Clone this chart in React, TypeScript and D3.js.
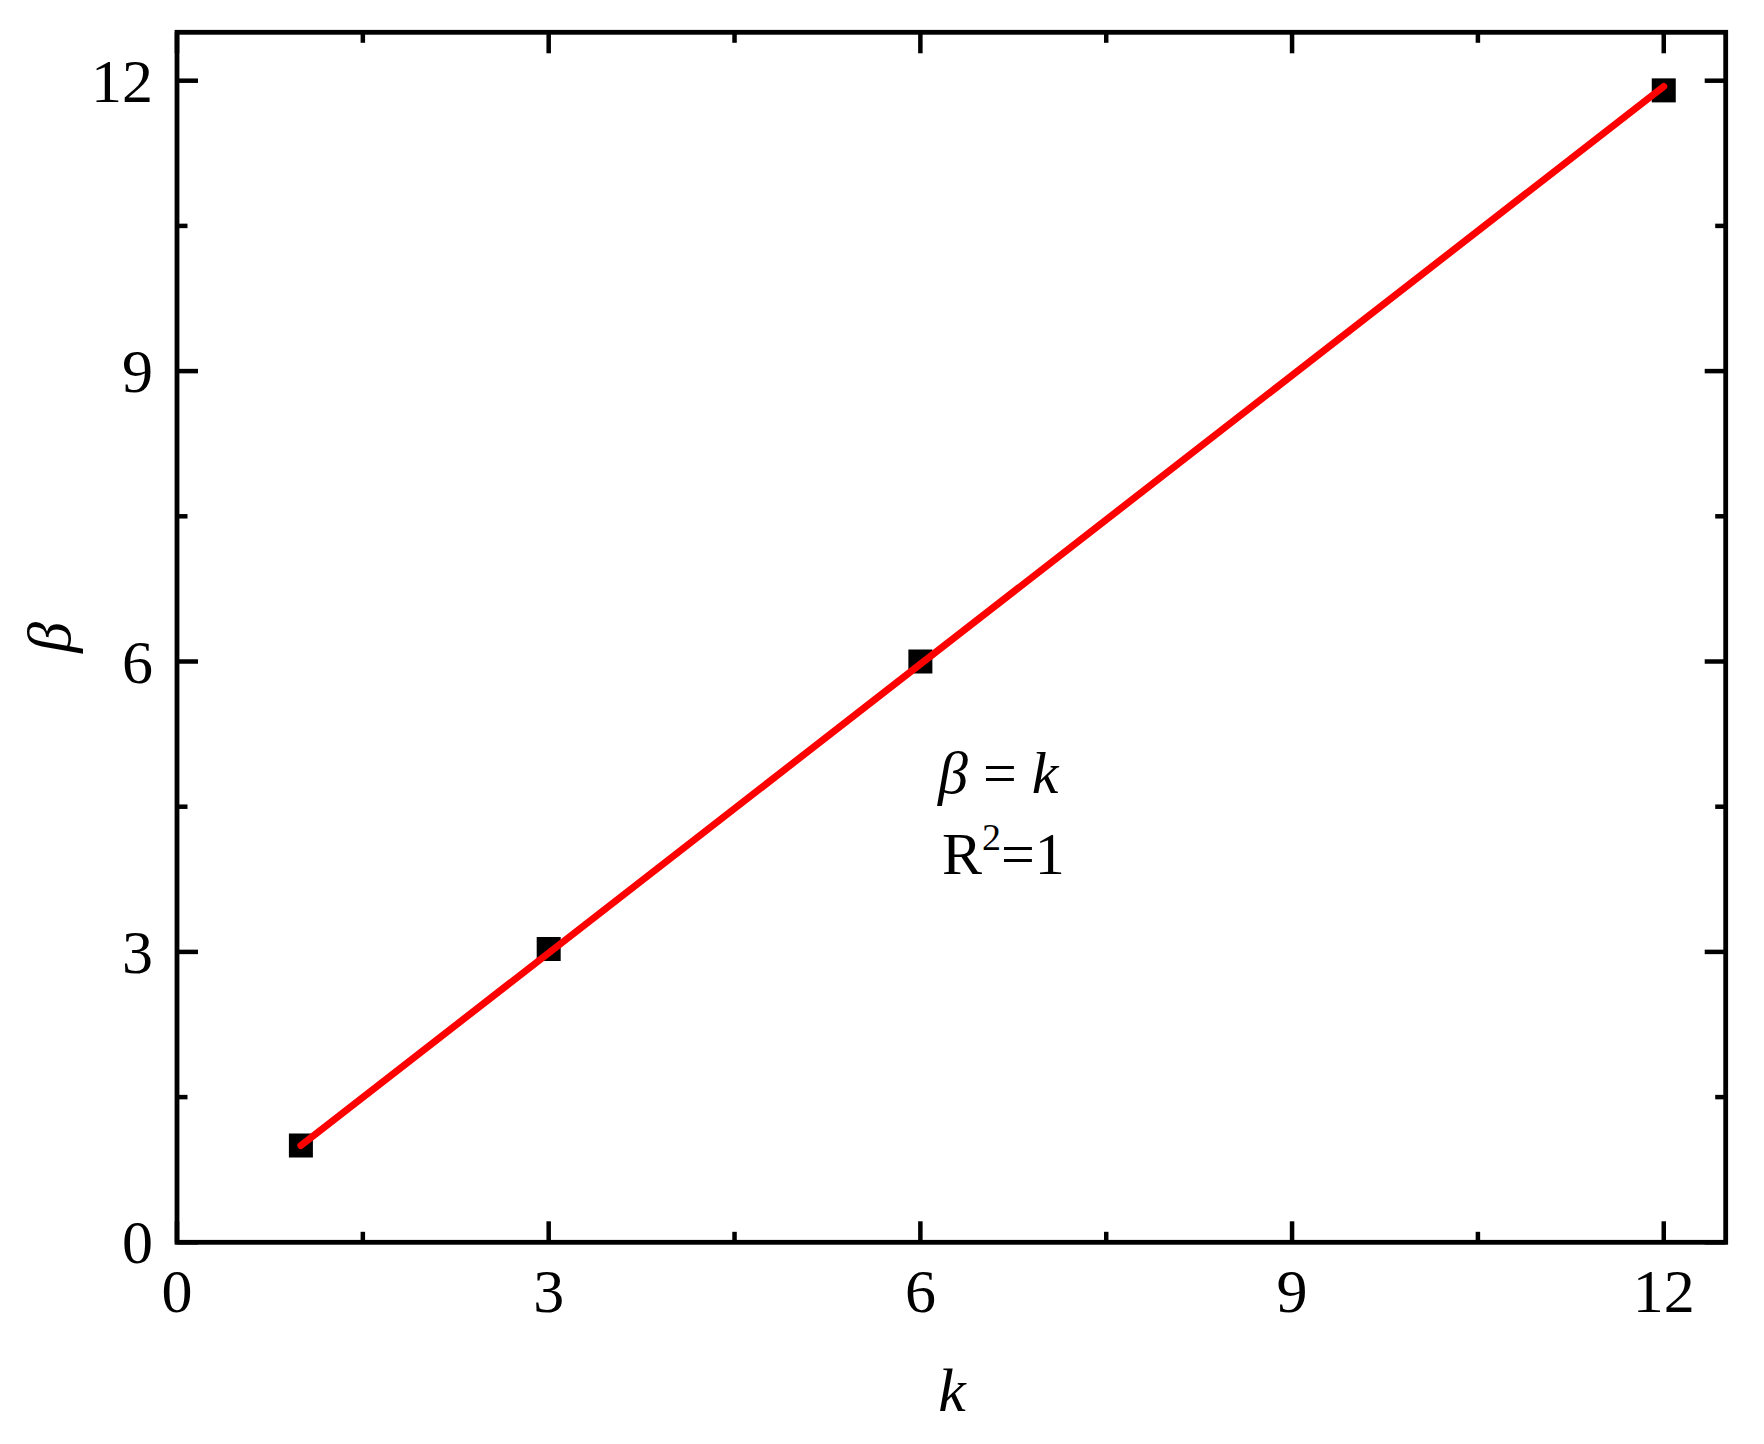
import React from "react";
import * as d3 from "d3";

const kValues = [1, 3, 6, 12];
const betaValues = [1.0, 3.03, 6.0, 11.9];
const fitK = [1, 12];
const fitBeta = [1.0, 11.94];
const majorTicks = [0, 3, 6, 9, 12];
const minorTicks = [1.5, 4.5, 7.5, 10.5];

const W = 1764;
const H = 1444;
const L = 177, R = 1725.7, T = 32.3, B = 1242.3;
const FONT = "'Liberation Serif', 'Times New Roman', serif";

export default function App() {
  const x = d3.scaleLinear().domain([0, 12.5]).range([L, R]);
  const y = d3.scaleLinear().domain([0, 12.5]).range([B, T]);
  const line = d3.line<number>().x((_, i) => x(fitK[i])).y((d) => y(d));
  const sw = 4.5;
  const majLen = 21, minLen = 10.5;
  return (
    <svg width={W} height={H} style={{ position: "absolute", left: 0, top: 0, background: "#fff" }}>
      <rect x={0} y={0} width={W} height={H} fill="#fff" />
      <g stroke="#000" strokeWidth={sw}>
        {majorTicks.map((t) => (
          <g key={"mx" + t}>
            <line x1={x(t)} x2={x(t)} y1={B} y2={B - majLen} />
            <line x1={x(t)} x2={x(t)} y1={T} y2={T + majLen} />
            <line x1={L} x2={L + majLen} y1={y(t)} y2={y(t)} />
            <line x1={R} x2={R - majLen} y1={y(t)} y2={y(t)} />
          </g>
        ))}
        {minorTicks.map((t) => (
          <g key={"mn" + t}>
            <line x1={x(t)} x2={x(t)} y1={B} y2={B - minLen} />
            <line x1={x(t)} x2={x(t)} y1={T} y2={T + minLen} />
            <line x1={L} x2={L + minLen} y1={y(t)} y2={y(t)} />
            <line x1={R} x2={R - minLen} y1={y(t)} y2={y(t)} />
          </g>
        ))}
      </g>
      <rect x={L} y={T} width={R - L} height={B - T} fill="none" stroke="#000" strokeWidth={4.8} />
      <g fontFamily={FONT} fontSize={62} fill="#000">
        {majorTicks.map((t) => (
          <text key={"xl" + t} x={x(t)} y={1312} textAnchor="middle">{t}</text>
        ))}
        {majorTicks.map((t) => (
          <text key={"yl" + t} x={153} y={y(t)} dy="0.34em" textAnchor="end">{t}</text>
        ))}
      </g>
      <text x={952} y={1411} textAnchor="middle" fontFamily={FONT} fontSize={62} fontStyle="italic">k</text>
      <text transform={`translate(70,${(T + B) / 2}) rotate(-90)`} textAnchor="middle" fontFamily={FONT} fontSize={62} fontStyle="italic">β</text>
      <g fill="#000">
        {kValues.map((k, i) => (
          <rect key={"p" + k} x={x(k) - 12} y={y(betaValues[i]) - 12} width={24} height={24} />
        ))}
      </g>
      <path d={line(fitBeta) || ""} fill="none" stroke="#ff0000" strokeWidth={7} strokeLinecap="round" />
      <g fontFamily={FONT} fontSize={60} fill="#000">
        <text x={938} y={793}>
          <tspan fontStyle="italic">β</tspan>
          <tspan> = </tspan>
          <tspan fontStyle="italic">k</tspan>
        </text>
        <text x={942} y={874}>
          R<tspan dy={-24} fontSize={38}>2</tspan><tspan dy={24}>=1</tspan>
        </text>
      </g>
    </svg>
  );
}
